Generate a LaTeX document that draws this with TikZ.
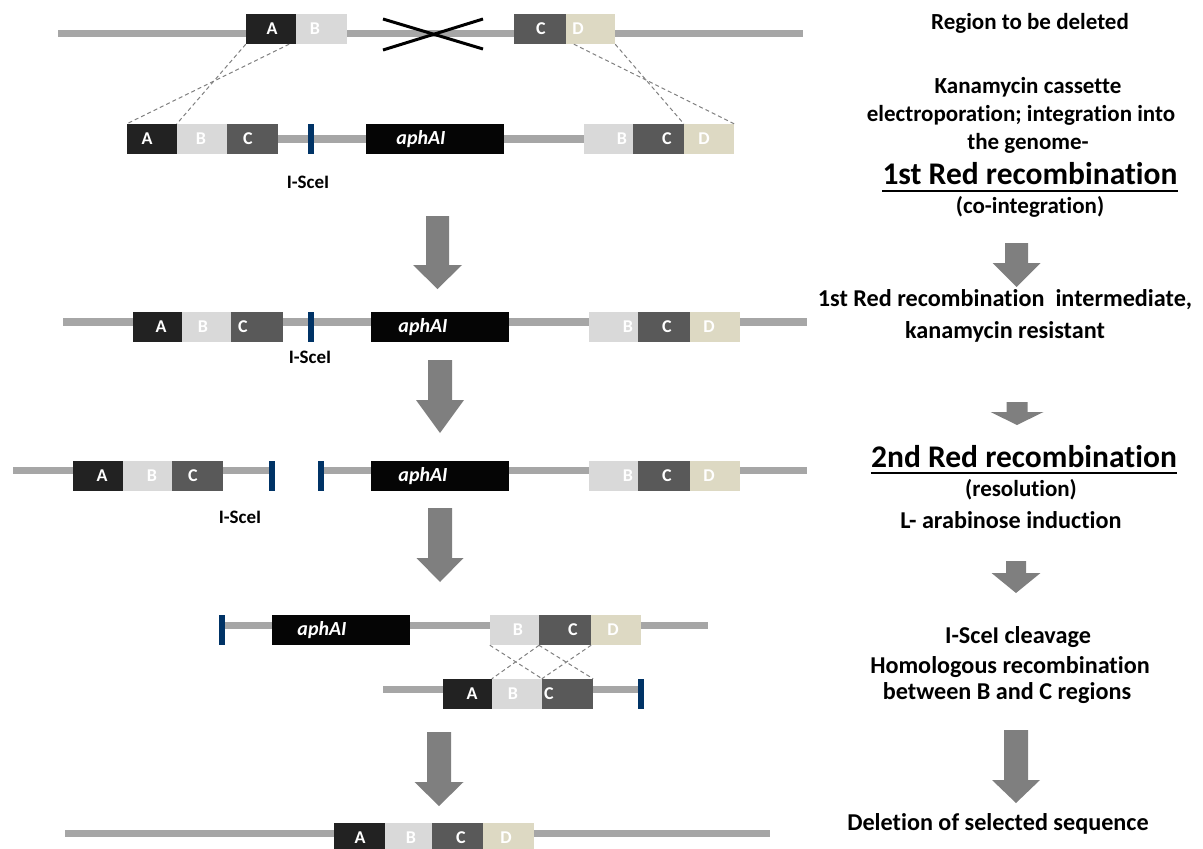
\documentclass[tikz,border=0pt]{standalone}
\usepackage{fontspec}
\setmainfont{Carlito}[Ligatures={NoCommon}]
\definecolor{lineg}{HTML}{A6A6A6}
\definecolor{cA}{HTML}{222222}
\definecolor{cB}{HTML}{D9D9D9}
\definecolor{cC}{HTML}{595959}
\definecolor{cD}{HTML}{DDD9C3}
\definecolor{cK}{HTML}{050505}
\definecolor{navy}{RGB}{0,51,102}
\definecolor{arrowg}{HTML}{7F7F7F}
\definecolor{dashg}{HTML}{808080}
\pgfdeclarelayer{bg}
\pgfsetlayers{bg,main}
\tikzset{
  chrom/.style={draw=lineg, line width=7.5pt},
  blk/.style={rectangle, inner sep=0pt, minimum height=30pt, draw=none},
  blab/.style={text=white, font=\bfseries\fontsize{18}{18}\selectfont, inner sep=0pt},
  klab/.style={text=white, font=\bfseries\itshape\fontsize{20}{20}\selectfont, inner sep=0pt},
  bar/.style={rectangle, fill=navy, inner sep=0pt, minimum width=6pt, minimum height=30pt},
  slab/.style={font=\bfseries\fontsize{19}{19}\selectfont, inner sep=0pt},
  dashln/.style={draw=dashg, line width=1pt, dash pattern=on 4pt off 3pt},
  rtxt/.style={font=\bfseries\fontsize{23}{23}\selectfont, inner sep=0pt, anchor=base},
  rtxtb/.style={font=\bfseries\fontsize{24.2}{24.2}\selectfont, inner sep=0pt, anchor=base},
  rhead/.style={font=\bfseries\fontsize{31.5}{31.5}\selectfont, inner sep=0pt, anchor=base},
  garr/.style={fill=arrowg, draw=none},
}
% name, x1, x2, yc, fill, label, label x
\newcommand\gblk[7]{%
  \node[blk, fill=#5, minimum width={(#3-#2)*1pt}] (#1) at ({(#2+#3)/2},#4) {};
  \node[blab] (#1t) at (#7,#4) {#6};}
% name, x1, x2, yc, label x  (aphAI cassette)
\newcommand\gkan[5]{%
  \node[blk, fill=cK, minimum width={(#3-#2)*1pt}] (#1) at ({(#2+#3)/2},#4) {};
  \node[klab] (#1t) at (#5,#4) {aphAI};}
% xc, top, base, tip, shaft half, head half
\newcommand\garrow[6]{%
  \fill[garr] ({#1-#5},#2) -- ({#1+#5},#2) -- ({#1+#5},#3) -- ({#1+#6},#3) -- (#1,#4) -- ({#1-#6},#3) -- ({#1-#5},#3) -- cycle;}
\begin{document}
\begin{tikzpicture}[x=1pt,y=-1pt]
\useasboundingbox (0,0) rectangle (1203,849);

% ---------- Row 1 ----------
\coordinate (r1s) at (58,33.5); \coordinate (r1e) at (803,33.5);
\begin{pgfonlayer}{bg}\draw[chrom] (r1s) -- (r1e);\end{pgfonlayer}
\gblk{r1A}{246}{296}{29}{cA}{A}{272}
\gblk{r1B}{296}{347}{29}{cB}{B}{315}
\gblk{r1C}{514}{566}{29}{cC}{C}{541}
\gblk{r1D}{566}{615}{29}{cD}{D}{578}
\draw[line width=3pt] (383,19) -- (483,49);
\draw[line width=3pt] (383,50) -- (483,19);

% ---------- Row 2 ----------
\gblk{r2A}{127}{177}{139}{cA}{A}{147}
\gblk{r2B}{177}{227}{139}{cB}{B}{201}
\gblk{r2C}{227}{278}{139}{cC}{C}{248}
\node[bar] (r2s) at (311,139) {};
\gkan{r2K}{366}{504}{139}{421}
\gblk{r2B2}{584}{633}{139}{cB}{B}{622}
\gblk{r2C2}{633}{684}{139}{cC}{C}{667}
\gblk{r2D2}{684}{734}{139}{cD}{D}{704}
\begin{pgfonlayer}{bg}
\draw[chrom] (r2C.east) -- (r2K.west);
\draw[chrom] (r2K.east) -- (r2B2.west);
\end{pgfonlayer}
\node[slab] (r2l) at (308,182) {I-SceI};
\draw[dashln] (r1A.south west) -- (r2B.north west);
\draw[dashln] ([xshift=-7pt]r1A.south east) -- (r2A.north west);
\draw[dashln] ([xshift=8pt]r1D.south west) -- (r2D2.north east);
\draw[dashln] (r1D.south east) -- (r2D2.north west);

% ---------- Row 3 ----------
\coordinate (r3s) at (63,322); \coordinate (r3e) at (807,322);
\begin{pgfonlayer}{bg}\draw[chrom] (r3s) -- (r3e);\end{pgfonlayer}
\gblk{r3A}{133}{182}{327}{cA}{A}{161}
\gblk{r3B}{182}{231}{327}{cB}{B}{203}
\gblk{r3C}{231}{283}{327}{cC}{C}{243}
\node[bar] (r3s1) at (311,327) {};
\gkan{r3K}{371}{509}{327}{423}
\gblk{r3B2}{589}{638}{327}{cB}{B}{628}
\gblk{r3C2}{638}{690}{327}{cC}{C}{667}
\gblk{r3D2}{690}{740}{327}{cD}{D}{709}
\node[slab] (r3l) at (310,357) {I-SceI};

% ---------- Row 4 ----------
\node[bar] (r4s1) at (272,476) {};
\node[bar] (r4s2) at (321,476) {};
\coordinate (r4s) at (13,470.5); \coordinate (r4e) at (807,470.5);
\begin{pgfonlayer}{bg}
\draw[chrom] (r4s) -- (r4s1.center |- r4s);
\draw[chrom] (r4s2.center |- r4e) -- (r4e);
\end{pgfonlayer}
\gblk{r4A}{73}{123}{476}{cA}{A}{102}
\gblk{r4B}{123}{172}{476}{cB}{B}{152}
\gblk{r4C}{172}{223}{476}{cC}{C}{193}
\gkan{r4K}{371}{509}{476}{423}
\gblk{r4B2}{589}{638}{476}{cB}{B}{628}
\gblk{r4C2}{638}{690}{476}{cC}{C}{667}
\gblk{r4D2}{690}{740}{476}{cD}{D}{709}
\node[slab] (r4l) at (240,517) {I-SceI};

% ---------- Row 5 (top) ----------
\node[bar] (r5s1) at (222,630) {};
\coordinate (r5e) at (708,625.5);
\begin{pgfonlayer}{bg}\draw[chrom] (r5s1.center |- r5e) -- (r5e);\end{pgfonlayer}
\gkan{r5K}{272}{410}{630}{322}
\gblk{r5B}{490}{539}{630}{cB}{B}{518}
\gblk{r5C}{539}{591}{630}{cC}{C}{573}
\gblk{r5D}{591}{641}{630}{cD}{D}{613}

% ---------- Row 5 (bottom) ----------
\node[bar] (r6s1) at (641,694) {};
\coordinate (r6s) at (383,689.5);
\begin{pgfonlayer}{bg}\draw[chrom] (r6s) -- (r6s1.center |- r6s);\end{pgfonlayer}
\gblk{r6A}{443}{492}{694}{cA}{A}{472}
\gblk{r6B}{492}{542}{694}{cB}{B}{513}
\gblk{r6C}{542}{593}{694}{cC}{C}{549}
\draw[dashln] (r5B.south west) -- (r6B.north east);
\draw[dashln] (r5B.south east) -- (r6B.north west);
\draw[dashln] (r5C.south west) -- (r6C.north east);
\draw[dashln] (r5C.south east) -- (r6C.north west);

% ---------- Row 6 (final) ----------
\coordinate (r7s) at (65,833.5); \coordinate (r7e) at (770,833.5);
\begin{pgfonlayer}{bg}\draw[chrom] (r7s) -- (r7e);\end{pgfonlayer}
\gblk{r7A}{334}{385}{838}{cA}{A}{360}
\gblk{r7B}{385}{432}{838}{cB}{B}{411}
\gblk{r7C}{432}{483}{838}{cC}{C}{461}
\gblk{r7D}{483}{534}{838}{cD}{D}{506}

% ---------- Left arrows ----------
\garrow{437.5}{216}{265}{289}{11.5}{24.5}
\garrow{440}{360}{400}{433}{12}{24}
\garrow{440}{508}{558}{582}{12}{23.5}
\garrow{439}{732}{782}{806}{12}{24.5}

% ---------- Right arrows ----------
\garrow{1016.5}{243}{263}{287}{11.5}{24}
\garrow{1017}{402}{412}{425}{10.5}{26.5}
\garrow{1016}{561}{573}{593}{10}{24.5}
\garrow{1016}{730}{780}{803}{12}{24}

% ---------- Right texts ----------
\node[rtxt] (t1) at (1030,29) {Region to be deleted};
\node[rtxt] (t2) at (1028,93) {Kanamycin cassette};
\node[rtxt] (t3) at (1021,121) {electroporation; integration into};
\node[rtxt] (t4) at (1028,149) {the genome-};
\node[rhead] (h1) at (1030,184) {1st Red recombination};
\draw[line width=2pt] ([yshift=-7pt]h1.base west) -- ([yshift=-7pt]h1.base east);
\node[rtxt] (t5) at (1030,213) {(co-integration)};
\node[rtxtb] (t6) at (1005,306) {1st Red recombination\ \ intermediate,};
\node[rtxtb] (t7) at (1005,338) {kanamycin resistant};
\node[rhead] (h2) at (1024,467) {2nd Red recombination};
\draw[line width=2pt] ([yshift=-6pt]h2.base west) -- ([yshift=-6pt]h2.base east);
\node[rtxt] (t8) at (1021,496) {(resolution)};
\node[rtxtb] (t9) at (1011,528) {L- arabinose induction};
\node[rtxtb] (t10) at (1018,643) {I-SceI cleavage};
\node[rtxtb] (t11) at (1010,673) {Homologous recombination};
\node[rtxtb] (t12) at (1007,699) {between B and C regions};
\node[rtxtb] (t13) at (998,830) {Deletion of selected sequence};
\end{tikzpicture}
\end{document}
